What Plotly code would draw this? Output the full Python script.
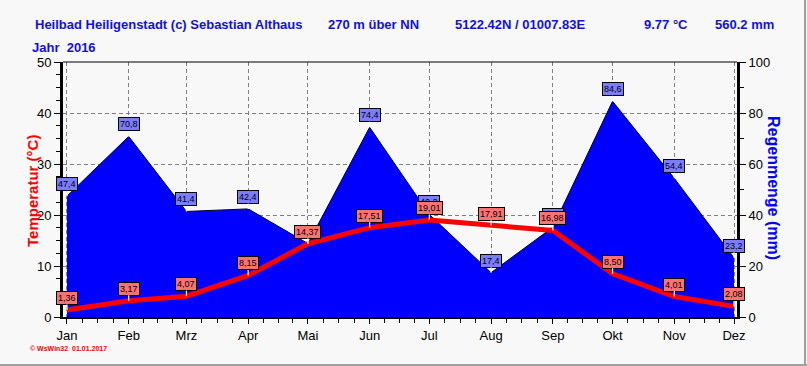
import plotly.graph_objects as go
import pandas as pd

# ---- data ----
months = ["Jan", "Feb", "Mrz", "Apr", "Mai", "Jun", "Jul", "Aug", "Sep", "Okt", "Nov", "Dez"]
dates = ["2016-01-01", "2016-02-01", "2016-03-01", "2016-04-01", "2016-05-01", "2016-06-01",
         "2016-07-01", "2016-08-01", "2016-09-01", "2016-10-01", "2016-11-01", "2016-12-01"]
temp = [1.36, 3.17, 4.07, 8.15, 14.37, 17.51, 19.01, 17.91, 16.98, 8.50, 4.01, 2.08]
rain = [47.4, 70.8, 41.4, 42.4, 28.8, 74.4, 40.2, 17.4, 35.2, 84.6, 54.4, 23.2]
temp_ticks = [0, 10, 20, 30, 40, 50]
rain_ticks = [0, 20, 40, 60, 80, 100]

FONT = "Arial, Liberation Sans, sans-serif"
W, H = 807, 366
L, R, T, B = 63, 70, 62, 49
PW = W - L - R
PH = H - T - B


def px(x):
    return (x - L) / PW


def py(y):
    return (H - B - y) / PH


# minor x ticks: quarter-month subdivisions
ms = pd.to_datetime(dates + ["2017-01-01"])
minor_x = []
for a, b in zip(ms[:-1], ms[1:]):
    for k in (1, 2, 3):
        minor_x.append((a + (b - a) * k / 4).strftime("%Y-%m-%d %H:%M:%S"))

fig = go.Figure()
fig.add_trace(go.Scatter(
    x=dates, y=rain, yaxis="y2", mode="lines", fill="tozeroy",
    fillcolor="#0000ff", line=dict(color="#00002a", width=1), hoverinfo="skip",
))
fig.add_trace(go.Scatter(
    x=dates, y=temp, yaxis="y", mode="lines",
    line=dict(color="#ff0000", width=5), hoverinfo="skip",
))

annotations = []


def add_label(x, v, yref, txt, bg):
    annotations.append(dict(
        x=x, y=v, xref="x", yref=yref, text=txt, showarrow=True,
        arrowhead=0, arrowcolor="white", arrowwidth=1.2, ax=0, ay=-12,
        standoff=0, font=dict(family=FONT, size=9, color="black"),
        bgcolor=bg, borderpad=1, borderwidth=1, bordercolor="black",
    ))


for d, v in zip(dates, rain):
    add_label(d, v, "y2", f"{v:.1f}".replace(".", ","), "#7c7cff")
for d, v in zip(dates, temp):
    add_label(d, v, "y", f"{v:.2f}".replace(".", ","), "#ff7272")

# header texts
hdr = [
    ("Heilbad Heiligenstadt (c) Sebastian Althaus", 33, 24),
    ("270 m über NN", 326, 24),
    ("5122.42N / 01007.83E", 453, 24),
    ("9.77 °C", 642, 24),
    ("560.2 mm", 713, 24),
    ("Jahr  2016", 30, 47),
]
for txt, x, y in hdr:
    annotations.append(dict(
        x=px(x), y=py(y), xref="paper", yref="paper", text=f"<b>{txt}</b>",
        showarrow=False, xanchor="left", yanchor="middle",
        font=dict(family=FONT, size=13, color="#1010e0"),
    ))

annotations.append(dict(
    x=px(32), y=py(191), xref="paper", yref="paper", text="<b>Temperatur (°C)</b>",
    showarrow=False, textangle=-90, xanchor="center", yanchor="middle",
    font=dict(family=FONT, size=15, color="#ff0000"),
))
annotations.append(dict(
    x=px(774), y=py(188), xref="paper", yref="paper", text="<b>Regenmenge (mm)</b>",
    showarrow=False, textangle=90, xanchor="center", yanchor="middle",
    font=dict(family=FONT, size=16, color="#0000ff"),
))
annotations.append(dict(
    x=px(28), y=py(348), xref="paper", yref="paper", text="<b>© WsWin32  01.01.2017</b>",
    showarrow=False, xanchor="left", yanchor="middle",
    font=dict(family=FONT, size=7, color="#ff0000"),
))

shapes = [
    dict(type="line", xref="paper", yref="paper", x0=0, x1=1, y0=1, y1=1,
         line=dict(color="black", width=1)),
    dict(type="line", xref="paper", yref="paper", x0=px(0), x1=px(W), y0=py(365), y1=py(365),
         line=dict(color="#a0a0a0", width=2)),
    dict(type="line", xref="paper", yref="paper", x0=px(805), x1=px(805), y0=py(0), y1=py(366),
         line=dict(color="#a0a0a0", width=2)),
]

grid_dash = "4px,3px"
fig.update_layout(
    width=W, height=H,
    margin=dict(l=L, r=R, t=T, b=B),
    paper_bgcolor="#f8f8f8", plot_bgcolor="#f8f8f8",
    showlegend=False,
    font=dict(family=FONT, size=13, color="black"),
    xaxis=dict(
        type="date", range=["2015-12-30", "2016-12-02 12:00"],
        tickmode="array", tickvals=dates, ticktext=months,
        ticks="outside", ticklen=5, tickcolor="black", tickwidth=1,
        showline=True, linecolor="black", linewidth=2,
        showgrid=True, gridcolor="#808080", griddash=grid_dash, gridwidth=1,
        zeroline=False, tickfont=dict(family=FONT, size=13, color="black"),
        minor=dict(tickmode="array", tickvals=minor_x, ticks="outside",
                   ticklen=4, tickcolor="black", showgrid=False),
        fixedrange=True,
    ),
    yaxis=dict(
        range=[0, 50], tickmode="array", tickvals=temp_ticks,
        overlaying="y2", side="left", anchor="x",
        ticks="outside", ticklen=6, tickcolor="black",
        showline=True, linecolor="black", linewidth=3,
        showgrid=True, gridcolor="#808080", griddash=grid_dash, gridwidth=1,
        zeroline=False, tickfont=dict(family=FONT, size=13, color="black"),
        minor=dict(dtick=2.5, ticks="outside", ticklen=4, tickcolor="black", showgrid=False),
    ),
    yaxis2=dict(
        range=[0, 100], tickmode="array", tickvals=rain_ticks,
        side="right", anchor="x",
        ticks="outside", ticklen=6, tickcolor="black",
        showline=True, linecolor="black", linewidth=3,
        showgrid=False, zeroline=False,
        tickfont=dict(family=FONT, size=13, color="black"),
        minor=dict(dtick=10, ticks="outside", ticklen=4, tickcolor="black", showgrid=False),
    ),
    annotations=annotations,
    shapes=shapes,
)

fig.write_html(
    "out.html",
    config={"displayModeBar": False},
    post_script="document.body.style.margin='0';document.body.style.padding='0';"
                "document.body.style.background='#f8f8f8';",
)
